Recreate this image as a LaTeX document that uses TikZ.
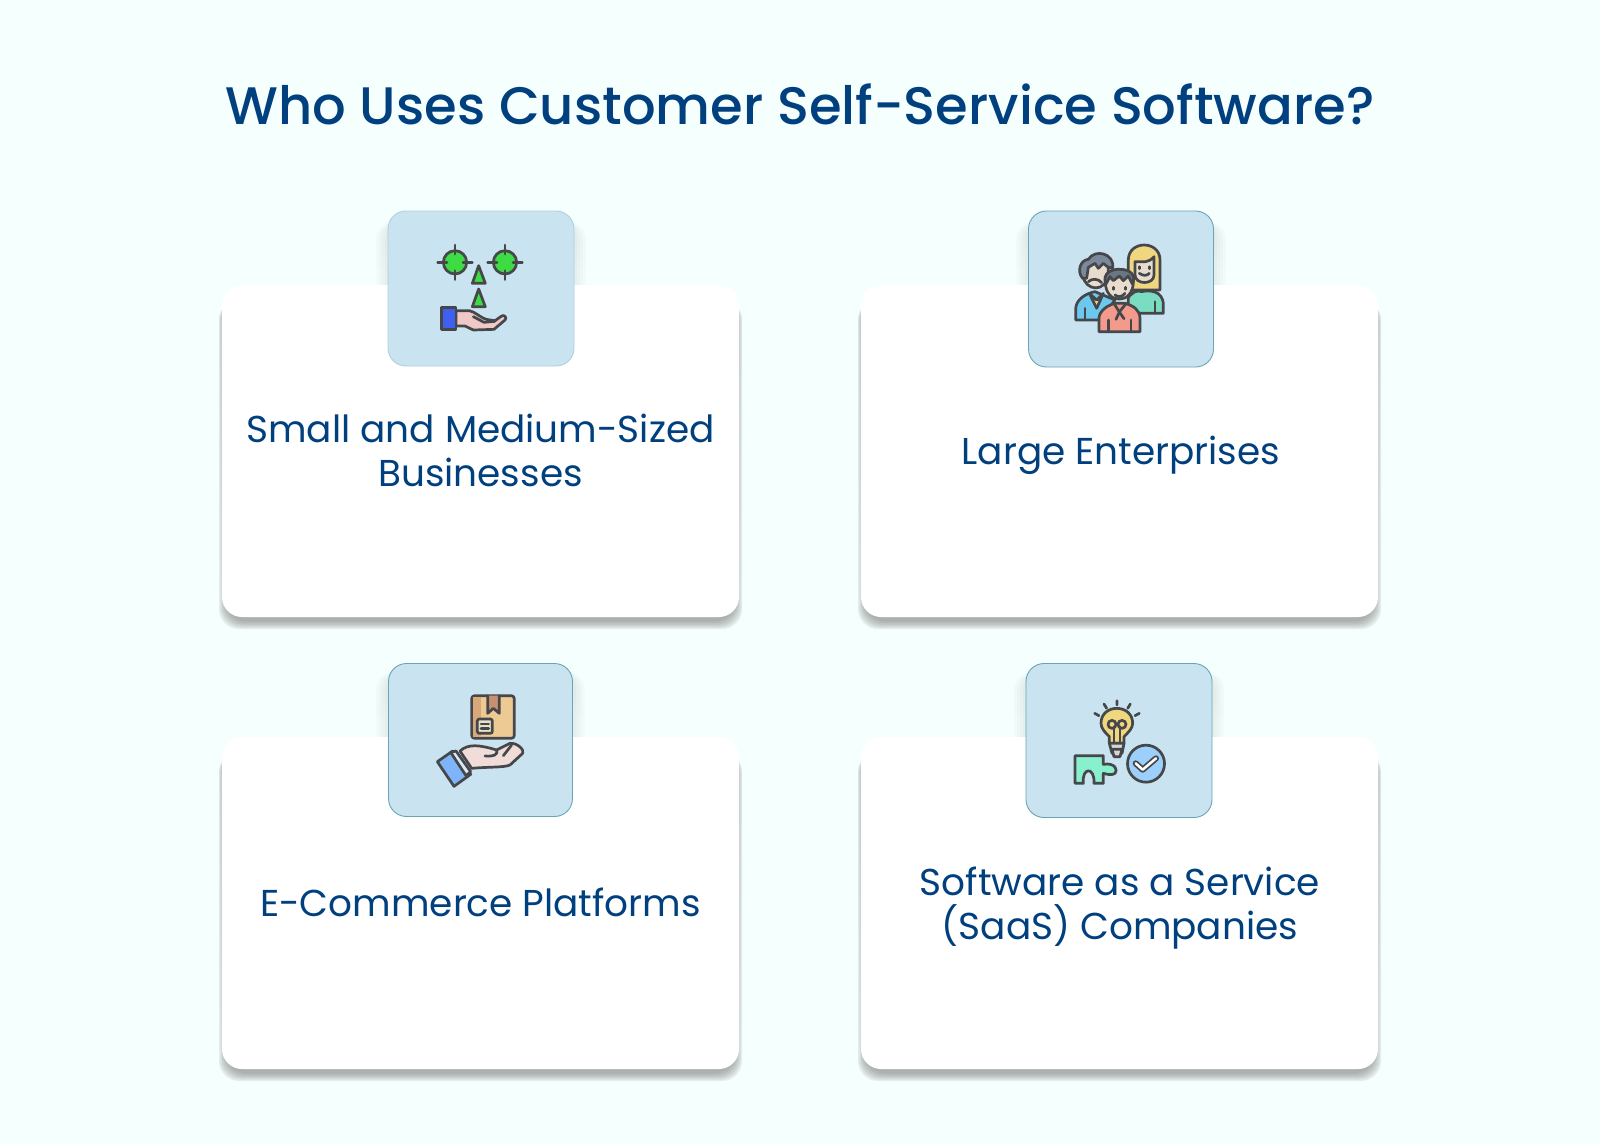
\documentclass[tikz,border=0pt]{standalone}
\usepackage{fontspec}
\setmainfont{Poppins}
\newfontfamily\titlefont{Poppins Medium}
\newfontfamily\bodyfont{Poppins}
\definecolor{bgc}{HTML}{F5FFFE}
\definecolor{navy}{HTML}{00407F}
\definecolor{tile}{HTML}{C9E4F0}
\definecolor{ink}{HTML}{45474A}
\definecolor{shade}{HTML}{5F7478}
\definecolor{edgeA}{HTML}{B0D0DC}
\definecolor{edgeB}{HTML}{6BA5B5}
\definecolor{targetg}{HTML}{3DDC44}
\definecolor{palm}{HTML}{F0C8C8}
\definecolor{cuffb}{HTML}{3F5FF0}
\definecolor{hairy}{HTML}{F0D67F}
\definecolor{bodyg}{HTML}{7ADCC0}
\definecolor{skin}{HTML}{E8DCCF}
\definecolor{bodyb}{HTML}{6CC8EE}
\definecolor{hairg}{HTML}{7A8A9A}
\definecolor{hairk}{HTML}{6A7682}
\definecolor{bodyr}{HTML}{F29A8C}
\definecolor{boxo}{HTML}{EDC994}
\definecolor{boxd}{HTML}{D8A878}
\definecolor{tape}{HTML}{C9906F}
\definecolor{lab}{HTML}{E8E0C8}
\definecolor{handl}{HTML}{F0DCD8}
\definecolor{slv}{HTML}{80B4FA}
\definecolor{slvc}{HTML}{D8EAF8}
\definecolor{bulbg}{HTML}{D5D5D5}
\definecolor{puzz}{HTML}{88F0CC}
\definecolor{chk}{HTML}{9CCFFA}
\tikzset{
 x=1pt,y=-1pt,
 ic/.style={draw=ink,line width=2.7pt,line join=round,line cap=round},
 cardbox/.style={fill=white,rounded corners=20pt,minimum width=517pt,minimum height=332pt,inner sep=0pt},
 tilebox/.style={fill=tile,draw=edgeB,line width=.9pt,rounded corners=18pt,inner sep=0pt},
 lbl/.style={font=\bodyfont\fontsize{37.4}{44}\selectfont,text=navy,align=center,anchor=center,inner sep=0pt},
 zoomed/.style={x=0.33333pt,y=-0.33333pt},
}
% soft shadow: x1 y1 x2 y2 opacity
\newcommand{\softrect}[5]{%
 \foreach \k in {8,6.5,5,3.5,2,0.5}{
  \fill[shade,opacity=#5,rounded corners=20pt] (#1+5-\k,#2) rectangle (#3-5+\k,#4+4+\k);
 }}
\newcommand{\softtile}[4]{%
 \foreach \k in {12,9,6,3}{
  \fill[shade,opacity=0.012,rounded corners=18pt] (#1-\k,#2) rectangle (#3+\k,#4);
 }}
\begin{document}
\begin{tikzpicture}
\useasboundingbox (0,0) rectangle (1600,1144);
\fill[bgc] (0,0) rectangle (1600,1144);
% icon tile shadows
\softtile{388}{222}{574}{366}
\softtile{1028}{222}{1214}{367}
\softtile{388}{672}{573}{817}
\softtile{1026}{672}{1212}{818}
% card shadows
\softrect{222}{300}{739}{617}{0.075}
\softrect{861}{300}{1378}{617}{0.075}
\softrect{222}{752}{739}{1069}{0.075}
\softrect{861}{752}{1378}{1069}{0.075}
% cards
\node[cardbox] (c1) at (480.5,451) {};
\node[cardbox] (c2) at (1119.5,451) {};
\node[cardbox] (c3) at (480.5,903) {};
\node[cardbox] (c4) at (1119.5,903) {};
% tiles
\node[tilebox,draw=edgeA,minimum width=186pt,minimum height=155pt] (t1) at (481,288.5) {};
\node[tilebox,minimum width=185pt,minimum height=156pt] (t2) at (1121,289) {};
\node[tilebox,minimum width=184pt,minimum height=153pt] (t3) at (480.5,740) {};
\node[tilebox,minimum width=186pt,minimum height=154pt] (t4) at (1119,740.5) {};
% texts
\node[font=\titlefont\fontsize{52.8}{60}\selectfont,text=navy,inner sep=0pt] (title) at (800,104.5) {Who Uses Customer Self-Service Software?};
\node[lbl] (l1) at (480.5,450) {Small and Medium-Sized\\Businesses};
\node[lbl] (l2) at (1121,455.5) {Large Enterprises};
\node[lbl] (l3) at (480.5,902) {E-Commerce Platforms};
\node[lbl] (l4) at (1120,908) {Software as a Service\\(SaaS) Companies};
% ---- icon 1
\begin{scope}[shift={(380,200)},zoomed]
 \foreach \cx in {225,375}{
  \draw[ic,fill=targetg] (\cx,187) circle[radius=35pt*0.33333];
  \draw[ic] (\cx-52,187)--(\cx-24,187) (\cx+24,187)--(\cx+52,187) (\cx,135)--(\cx,162) (\cx,212)--(\cx,239);
 }
 \draw[ic,fill=targetg] (296,197)--(316,250)--(277,250)--cycle;
 \draw[ic,fill=targetg] (296,267)--(316,320)--(277,320)--cycle;
 \draw[ic,fill=palm] (228,332)--(268,332)..controls (285,335) and (300,352)..(318,358)--(345,362)--(365,348)..controls (372,343) and (382,352)..(375,360)--(342,388)--(280,390)--(255,378)--(228,378)--cycle;
 \draw[ic] (280,350)--(312,367)--(345,364);
 \draw[ic,fill=cuffb] (185,323) rectangle (228,388);
\end{scope}
% ---- icon 2
\begin{scope}[shift={(1020,210)},zoomed]
 \draw[ic,fill=hairy] (325,240)--(325,150)..controls (325,90) and (420,90)..(420,150)--(420,240)--cycle;
 \draw[ic,fill=bodyg] (325,310)--(325,262)..controls (340,245) and (350,240)..(365,245)..controls (385,240) and (430,240)..(430,285)--(430,310)--cycle;
 \draw[ic] (405,275)--(405,310);
 \draw[ic,fill=skin] (345,155)--(345,195)..controls (345,225) and (402,225)..(402,195)--(402,140)..controls (385,160) and (370,155)..(345,155)--cycle;
 \draw[ic] (358,190)..controls (370,198) and (380,198)..(388,190);
 \draw[ic] (358,170)--(358,176) (388,170)--(388,176);
 \draw[ic,fill=bodyb] (167,330)--(167,295)..controls (170,265) and (200,250)..(225,245)--(285,270)--(240,330)--cycle;
 \draw[ic,fill=hairy] (208,250)--(230,295)--(250,250)--(230,270)--cycle;
 \draw[ic] (195,295)--(195,330);
 \draw[ic,fill=skin] (188,195)..controls (195,245) and (260,250)..(265,190)--(265,160)--(200,160)--cycle;
 \draw[ic,fill=hairg] (188,205)..controls (170,185) and (180,150)..(205,148)..controls (225,115) and (285,130)..(278,175)--(262,170)--(250,160)--(235,175)--(225,160)--(205,172)--(200,205)--cycle;
 \draw[ic] (205,215)..controls (215,205) and (235,205)..(245,218);
 \draw[ic,fill=bodyr] (237,365)--(237,322)..controls (240,300) and (265,285)..(285,280)--(315,280)..controls (340,287) and (360,300)..(360,325)--(360,365)--cycle;
 \draw[ic] (265,330)--(265,365) (333,330)--(333,365);
 \draw[ic] (283,282)--(298,306)--(317,282) (298,306)--(288,328) (298,306)--(312,326);
 \draw[ic,fill=skin] (256,215)..controls (255,285) and (340,285)..(340,215)--(340,200)--(256,200)--cycle;
 \draw[ic,fill=hairk] (258,222)..controls (245,190) and (275,176)..(300,178)..controls (330,178) and (350,195)..(337,222)--(325,198)--(310,212)--(298,198)--(280,212)--(270,200)--cycle;
 \draw[ic] (285,255)..controls (295,262) and (305,262)..(315,250);
 \draw[ic] (280,232)--(280,238) (317,232)--(317,238);
\end{scope}
% ---- icon 3
\begin{scope}[shift={(380,655)},zoomed]
 \draw[ic,fill=boxo,rounded corners=3pt] (275,122) rectangle (403,250);
 \fill[boxd] (279,126) rectangle (303,246);
 \draw[ic,fill=tape] (323,122)--(323,175)--(340,160)--(358,175)--(358,122);
 \draw[ic,fill=lab,rounded corners=2pt] (292,192) rectangle (337,235);
 \draw[ic] (303,207)--(326,207) (303,220)--(326,220);
 \draw[ic,fill=handl] (240,288)..controls (265,265) and (300,270)..(350,285)--(390,265)..controls (410,262) and (435,285)..(428,295)--(390,330)..controls (370,338) and (330,335)..(275,340)--cycle;
 \draw[ic] (350,285)..controls (355,300) and (340,305)..(315,303);
 \draw[ic] (370,302)--(395,270);
 \draw[ic,fill=slv] (172,320)--(218,288)--(272,358)--(222,394)--cycle;
 \draw[ic,fill=slvc] (212,292)--(228,288)--(272,350)--(258,362)--cycle;
\end{scope}
% ---- icon 4
\begin{scope}[shift={(1020,655)},zoomed]
 \draw[ic] (291,137)--(291,150) (252,147)--(260,160) (331,147)--(323,160) (224,175)--(237,182) (358,175)--(345,182);
 \draw[ic,fill=hairy] (268,265)--(268,245)..controls (255,232) and (243,220)..(243,205)..controls (243,145) and (338,145)..(338,205)..controls (338,220) and (325,232)..(312,245)--(312,265)--cycle;
 \draw[ic] (282,262)--(282,215) (300,262)--(300,215);
 \draw[ic] (276,208) circle[radius=4pt] (306,208) circle[radius=4pt];
 \draw[ic,fill=bulbg] (268,265)--(312,265)--(306,295)--(276,295)--cycle;
 \draw[ic,fill=bulbg] (276,283)--(306,283)--(300,305)--(282,305)--cycle;
 \draw[ic,fill=puzz] (165,302)--(250,302)--(250,328)..controls (285,322) and (295,345)..(285,355)..controls (275,362) and (262,358)..(250,355)--(250,385)--(222,385)..controls (225,335) and (185,335)..(190,385)--(165,385)--cycle;
 \draw[ic,fill=chk] (378,326) circle[radius=18.5pt];
 \draw[ink,line width=6pt,line cap=round,line join=round] (347,325)--(368,344)--(408,310);
 \draw[white,line width=2.5pt,line cap=round,line join=round] (347,325)--(368,344)--(408,310);
\end{scope}
\end{tikzpicture}
\end{document}
